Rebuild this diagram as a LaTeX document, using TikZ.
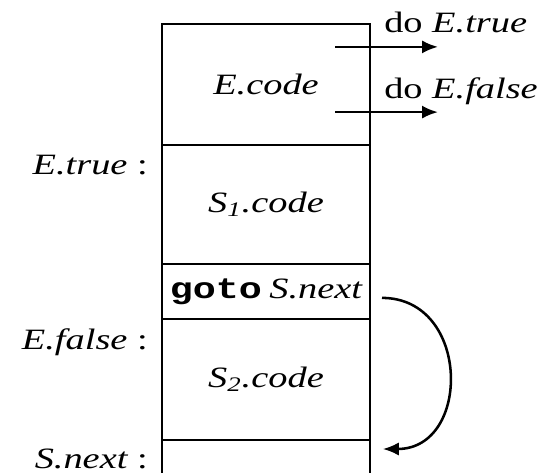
\documentclass[tikz,border=0pt]{standalone}
\usepackage{fontspec}
\setmainfont{Liberation Serif}[ItalicFont={Liberation Serif Italic}]
\setmonofont{Liberation Mono}[BoldFont={Liberation Mono Bold}]
\usepackage{graphicx}
\usetikzlibrary{arrows.meta,calc}
\newcommand{\wide}[1]{\scalebox{1.3}[1]{#1}}
\tikzstyle{line} = [draw, -{Latex[length=4mm,width=3.3mm]}]
\tikzstyle{block} = [draw, rectangle, minimum width=5.2cm, inner sep=0pt, outer sep=0pt]
\tikzstyle{lbl} = [inner sep=0pt]

\begin{document}
\begin{tikzpicture}[line width=1.8pt, font=\fontsize{21}{25}\selectfont]
        \useasboundingbox (0,0) rectangle (13.5,11.825);
        \coordinate (bottom) at (0,0);
        \node[block, minimum height=3.025cm] (ecode) at (6.65,9.7125) {\wide{\itshape E.code}};
        \node[block, below of=ecode, node distance=3cm, minimum height=2.975cm] (sone) {\wide{\itshape S\textsubscript{1}.code}};
        \node[block, below of=sone, node distance=2.175cm, minimum height=1.375cm] (jump) {\wide{\ttfamily\bfseries goto} \wide{\itshape S.next}};
        \node[block, below of=jump, node distance=2.2cm, minimum height=3.025cm] (stwo) {\wide{\itshape S\textsubscript{2}.code}};
        % open box for S.next
        \draw (stwo.south west) -- (stwo.south west |- bottom);
        \draw (stwo.south east) -- (stwo.south east |- bottom);
        % labels on the left
        \node[lbl, anchor=base east] (ltrue) at ($(sone.north west)+(-0.325,-0.75)$) {\wide{{\itshape E.true} :}};
        \node[lbl, anchor=base east] (lfalse) at ($(stwo.north west)+(-0.325,-0.75)$) {\wide{{\itshape E.false} :}};
        \node[lbl, anchor=base east] (lnext) at ($(stwo.south west)+(-0.325,-0.7)$) {\wide{{\itshape S.next} :}};
        % jumps out of E.code
        \coordinate (tstart) at ($(ecode.east)+(-0.875,0.94)$);
        \coordinate (tend) at ($(ecode.east)+(1.7,0.94)$);
        \coordinate (fstart) at ($(ecode.east)+(-0.875,-0.69)$);
        \coordinate (fend) at ($(ecode.east)+(1.7,-0.69)$);
        \path[line] (tstart) -- (tend);
        \path[line] (fstart) -- (fend);
        \node[lbl, anchor=base west] (dotrue) at ($(tstart)+(1.2,0.35)$) {\wide{do {\itshape E.true}}};
        \node[lbl, anchor=base west] (dofalse) at ($(fstart)+(1.2,0.35)$) {\wide{do {\itshape E.false}}};
        % goto S.next
        \coordinate (jfrom) at ($(jump.east)+(0.3,-0.16)$);
        \coordinate (jto) at ($(stwo.south east)+(0.32,-0.225)$);
        \path[line] (jfrom) to[out=0,in=0,looseness=1.5] (jto);
    \end{tikzpicture}
\end{document}
